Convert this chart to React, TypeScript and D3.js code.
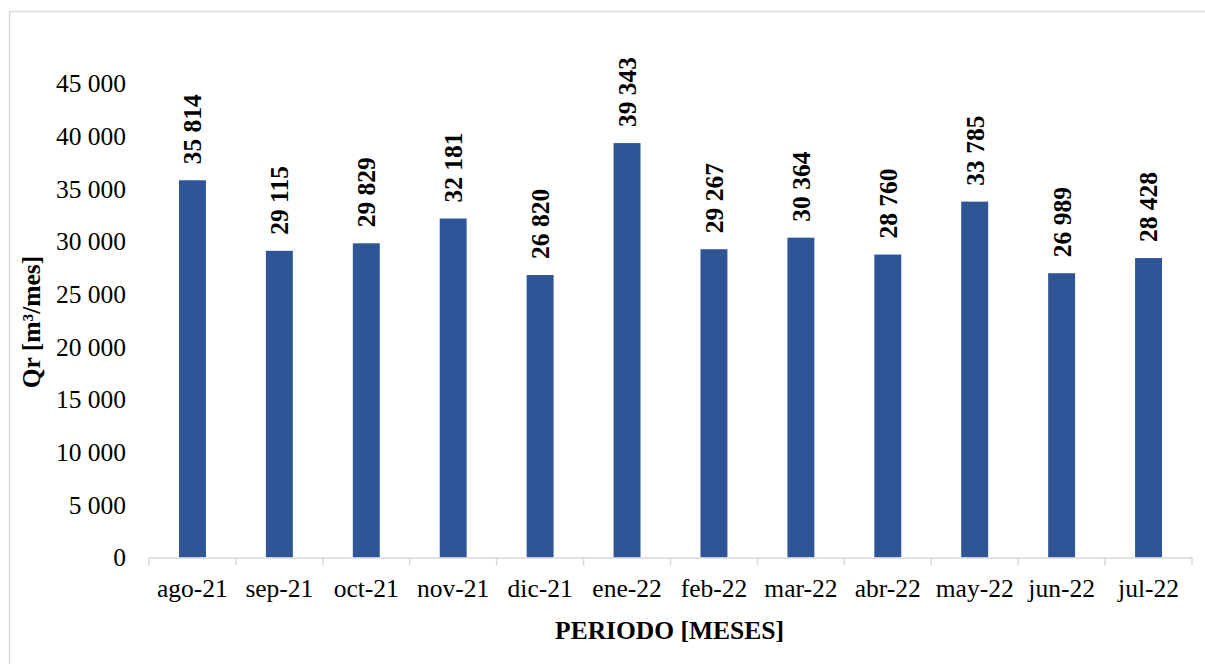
import React from "react";
import * as d3 from "d3";

const months = [
  "ago-21", "sep-21", "oct-21", "nov-21", "dic-21", "ene-22",
  "feb-22", "mar-22", "abr-22", "may-22", "jun-22", "jul-22",
];
const volumes = [35814, 29115, 29829, 32181, 26820, 39343, 29267, 30364, 28760, 33785, 26989, 28428];
const yTicks = [0, 5000, 10000, 15000, 20000, 25000, 30000, 35000, 40000, 45000];

const W = 1205;
const H = 664;
const FONT = "'Liberation Serif', 'Times New Roman', serif";
const FS = 25.5;
const BAR = "#2F5597";
const AXIS = "#D9D9D9";

const fmt = d3.formatLocale({ decimal: ",", thousands: "\u00a0", grouping: [3], currency: ["", ""] }).format(",d");

export default function App() {
  const left = 149;
  const right = 1192;
  const top = 83.5;
  const bottom = 557.5;

  const x = d3.scaleBand<string>().domain(months).range([left, right]).paddingInner(0.69).paddingOuter(0.345);
  const y = d3.scaleLinear().domain([0, 45000]).range([bottom, top]);
  const step = x.step();

  return (
    <svg width={W} height={H} style={{ position: "absolute", left: 0, top: 0, background: "#fff" }} fontFamily={FONT}>
      <rect x={9.5} y={11.5} width={W} height={H} fill="#fff" stroke={AXIS} strokeWidth={1.5} />

      {/* y-axis tick labels */}
      {yTicks.map((t) => (
        <text key={t} x={126} y={y(t)} dy="0.35em" textAnchor="end" fontSize={FS} fill="#000">
          {fmt(t)}
        </text>
      ))}

      {/* bars */}
      {months.map((m, i) => (
        <rect key={m} x={x(m)} y={y(volumes[i])} width={x.bandwidth()} height={bottom - y(volumes[i])} fill={BAR} />
      ))}

      {/* value labels */}
      {months.map((m, i) => {
        const cx = (x(m) as number) + x.bandwidth() / 2;
        const ty = y(volumes[i]) - 16;
        return (
          <text key={m} transform={`translate(${cx},${ty}) rotate(-90)`} dy="0.35em" fontSize={FS} fontWeight="bold" fill="#000">
            {fmt(volumes[i])}
          </text>
        );
      })}

      {/* x axis */}
      <line x1={left} x2={right} y1={bottom + 0.5} y2={bottom + 0.5} stroke={AXIS} strokeWidth={1.5} />
      {d3.range(months.length + 1).map((i) => (
        <line key={i} x1={left + i * step} x2={left + i * step} y1={bottom} y2={bottom + 8} stroke={AXIS} strokeWidth={1.5} />
      ))}
      {months.map((m) => (
        <text key={m} x={(x(m) as number) + x.bandwidth() / 2} y={597} textAnchor="middle" fontSize={FS} fill="#000">
          {m}
        </text>
      ))}

      {/* axis titles */}
      <text x={669.5} y={639} textAnchor="middle" fontSize={FS} fontWeight="bold" fill="#000">
        PERIODO [MESES]
      </text>
      <text transform={`translate(31,322) rotate(-90)`} dy="0.35em" textAnchor="middle" fontSize={FS} fontWeight="bold" fill="#000">
        Qr [m³/mes]
      </text>
    </svg>
  );
}
